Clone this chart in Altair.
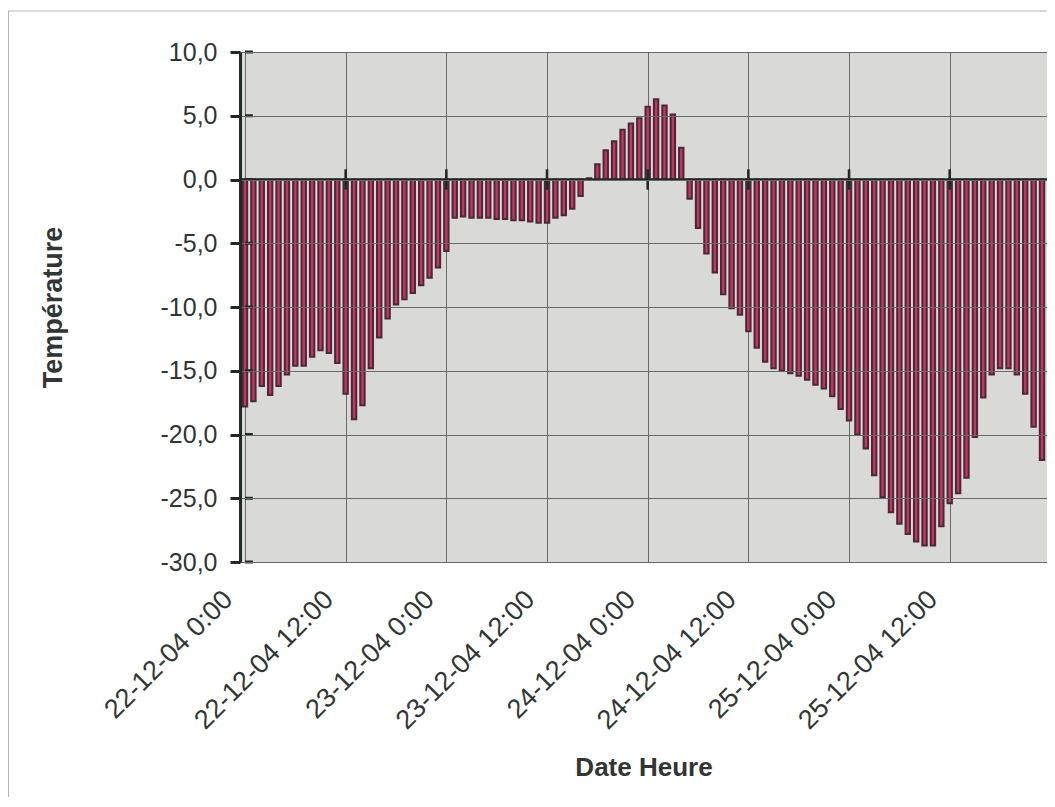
import json
import altair as alt
import pandas as pd

# Hourly temperature readings, 22-12-04 0:00 .. 25-12-04 23:00
hour_offsets = list(range(96))
temperatures = [
    -17.8, -17.4, -16.2, -16.9, -16.2, -15.3, -14.6, -14.6, -13.9, -13.4, -13.6, -14.4,
    -16.8, -18.8, -17.7, -14.8, -12.4, -10.9, -9.8, -9.4, -8.9, -8.3, -7.7, -6.9,
    -5.6, -3.0, -2.9, -3.0, -3.0, -3.0, -3.1, -3.1, -3.2, -3.2, -3.3, -3.4,
    -3.4, -3.0, -2.8, -2.3, -1.3, 0.1, 1.2, 2.3, 3.0, 3.9, 4.4, 4.8,
    5.7, 6.3, 5.8, 5.1, 2.5, -1.5, -3.8, -5.8, -7.3, -9.0, -10.1, -10.6,
    -11.9, -13.2, -14.3, -14.8, -15.0, -15.2, -15.4, -15.7, -16.1, -16.4, -17.0, -18.0,
    -18.9, -20.0, -21.1, -23.2, -24.9, -26.1, -27.0, -27.8, -28.4, -28.7, -28.7, -27.2,
    -25.4, -24.6, -23.4, -20.2, -17.1, -15.3, -14.8, -14.8, -15.3, -16.8, -19.4, -22.0,
]
tick_hours = [0, 12, 24, 36, 48, 60, 72, 84]
tick_labels = [
    "22-12-04 0:00", "22-12-04 12:00", "23-12-04 0:00", "23-12-04 12:00",
    "24-12-04 0:00", "24-12-04 12:00", "25-12-04 0:00", "25-12-04 12:00",
]
y_ticks = [-30, -25, -20, -15, -10, -5, 0, 5, 10]

df = pd.DataFrame({"hour": hour_offsets, "temp": temperatures})
df_yt = pd.DataFrame({"v": y_ticks})
df_xt = pd.DataFrame({"h": tick_hours[1:]})
df_zero = pd.DataFrame({"z": [0]})

FONT = "Liberation Sans"
TEXT = "#2f3634"
DARK = "#1f2a27"
GRID = "#666b68"

W, H = 807, 510
X_TITLE = "Date Heure"
Y_TITLE = "Température"

x_scale = alt.Scale(domain=[0, 95], nice=False, zero=False)
y_scale = alt.Scale(domain=[-30, 10], nice=False)

label_expr = json.dumps(tick_labels) + "[round(datum.value / 12)]"

bars = alt.Chart(df).mark_bar(
    width=4.4, fill="#c8345e", stroke="#48283a", strokeWidth=2, clip=True
).encode(
    x=alt.X("hour:Q", scale=x_scale, title=X_TITLE, axis=alt.Axis(
        values=tick_hours, labelExpr=label_expr, labelAngle=-45,
        labelAlign="right", labelBaseline="middle", labelPadding=33,
        labelOffset=-17, labelLimit=0,
        ticks=False, tickSize=0, domain=False, grid=True,
        gridColor=GRID, gridWidth=1, labelFontSize=27, labelColor=TEXT,
        labelFont=FONT, labelOverlap=False, labelBound=False, labelFlush=False,
        titleFont=FONT, titleFontSize=26,
        titleFontWeight="bold", titleColor=TEXT, titleX=W / 2, titleY=213,
        titleBaseline="alphabetic", titleAlign="center",
    )),
    y=alt.Y("temp:Q", scale=y_scale, title=Y_TITLE, axis=alt.Axis(
        values=y_ticks, labelExpr="datum.value + ',0'", tickSize=10,
        tickWidth=3, tickColor=DARK, domainWidth=3, domainColor=DARK,
        labelPadding=13, labelFontSize=25, labelColor=TEXT, labelFont=FONT,
        grid=True, gridColor=GRID, gridWidth=1, zindex=1,
        titleFont=FONT, titleFontSize=27,
        titleFontWeight="bold", titleColor=TEXT, titleX=-179, titleY=H / 2,
        titleBaseline="alphabetic", titleAlign="center", titleAngle=-90,
    )),
)

zero_line = alt.Chart(df_zero).mark_rule(color=DARK, strokeWidth=2.6).encode(
    y=alt.Y("z:Q", scale=y_scale, title=Y_TITLE)
)

x_cross = alt.Chart(df_xt).mark_rule(color=DARK, strokeWidth=2.6).encode(
    x=alt.X("h:Q", scale=x_scale, title=X_TITLE),
    y=alt.datum(-0.8),
    y2=alt.datum(0.8),
)

y_inner = alt.Chart(df_yt).mark_rule(color=DARK, strokeWidth=3).encode(
    x=alt.datum(0),
    x2=alt.datum(0.94),
    y=alt.Y("v:Q", scale=y_scale, title=Y_TITLE),
)

# thin outer frame of the chart area (decoration)
frame_top = alt.Chart(df_zero).mark_rule(color="#b4b6b4", strokeWidth=1).encode(
    x=alt.value(-232), x2=alt.value(W + 20), y=alt.value(-41)
)
frame_left = alt.Chart(df_zero).mark_rule(color="#b4b6b4", strokeWidth=1).encode(
    x=alt.value(-231.5), y=alt.value(-41), y2=alt.value(H + 240)
)

chart = alt.layer(frame_top, frame_left, bars, zero_line, x_cross, y_inner).properties(
    width=W, height=H,
    autosize=alt.AutoSizeParams(type="none"),
    padding={"left": 232, "top": 44, "right": 0, "bottom": 235},
    background="white",
).configure_view(fill="#d9dad6", stroke="#8a8a8a", strokeWidth=1)

chart.save("out.html", embed_options={"renderer": "svg", "actions": False})
